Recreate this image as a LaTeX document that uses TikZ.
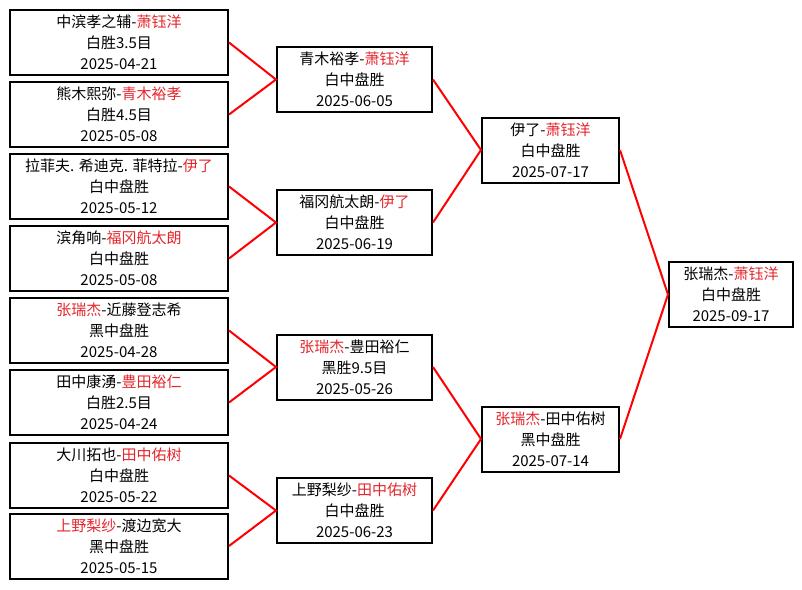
\documentclass[tikz,border=0pt]{standalone}
\usepackage{fontspec}
\setmainfont{Noto Sans CJK SC}
\definecolor{winred}{RGB}{228,38,44}
\newcommand{\winner}[1]{\textcolor{winred}{#1}}

\begin{document}
\begin{tikzpicture}[
        x=0.75pt, y=-0.75pt,
        every node/.style={draw, line width=1.5pt, align=center, inner sep=0pt,
            minimum height=48.75pt, font=\fontsize{11.25}{15.75}\selectfont},
        round1/.style={minimum width=163.5pt},
        round2/.style={minimum width=116.25pt},
        round3/.style={minimum width=102.75pt},
        final/.style={minimum width=93pt},
        link/.style={draw=red, line width=1.5pt},
    ]
    \useasboundingbox (0,0) rectangle (802,589);

    \node[round1](q1) at (119,42.5){中滨孝之辅-\winner{萧钰洋}\\白胜3.5目\\2025-04-21};
    \node[round1](q2) at (119,114.5){熊木熙弥-\winner{青木裕孝}\\白胜4.5目\\2025-05-08};
    \node[round1](q3) at (119,186.5){拉菲夫. 希迪克. 菲特拉-\winner{伊了}\\白中盘胜\\2025-05-12};
    \node[round1](q4) at (119,258.5){滨角响-\winner{福冈航太朗}\\白中盘胜\\2025-05-08};
    \node[round1](q5) at (119,330.5){\winner{张瑞杰}-近藤登志希\\黑中盘胜\\2025-04-28};
    \node[round1](q6) at (119,402.5){田中康湧-\winner{豊田裕仁}\\白胜2.5目\\2025-04-24};
    \node[round1](q7) at (119,475.5){大川拓也-\winner{田中佑树}\\白中盘胜\\2025-05-22};
    \node[round1](q8) at (119,546){\winner{上野梨纱}-渡边宽大\\黑中盘胜\\2025-05-15};

    \node[round2](s1) at (354.5,79.5){青木裕孝-\winner{萧钰洋}\\白中盘胜\\2025-06-05};
    \node[round2](s2) at (354.5,222.5){福冈航太朗-\winner{伊了}\\白中盘胜\\2025-06-19};
    \node[round2](s3) at (354.5,367){\winner{张瑞杰}-豊田裕仁\\黑胜9.5目\\2025-05-26};
    \node[round2](s4) at (354.5,510.5){上野梨纱-\winner{田中佑树}\\白中盘胜\\2025-06-23};

    \node[round3](f1) at (550.5,150){伊了-\winner{萧钰洋}\\白中盘胜\\2025-07-17};
    \node[round3](f2) at (550.5,439){\winner{张瑞杰}-田中佑树\\黑中盘胜\\2025-07-14};

    \node[final](champ) at (731,294.5){张瑞杰-\winner{萧钰洋}\\白中盘胜\\2025-09-17};

    \draw[link] (q1.east) -- (s1.west) -- (q2.east);
    \draw[link] (q3.east) -- (s2.west) -- (q4.east);
    \draw[link] (q5.east) -- (s3.west) -- (q6.east);
    \draw[link] (q7.east) -- (s4.west) -- (q8.east);
    \draw[link] (s1.east) -- (f1.west) -- (s2.east);
    \draw[link] (s3.east) -- (f2.west) -- (s4.east);
    \draw[link] (f1.east) -- (champ.west) -- (f2.east);
\end{tikzpicture}
\end{document}
